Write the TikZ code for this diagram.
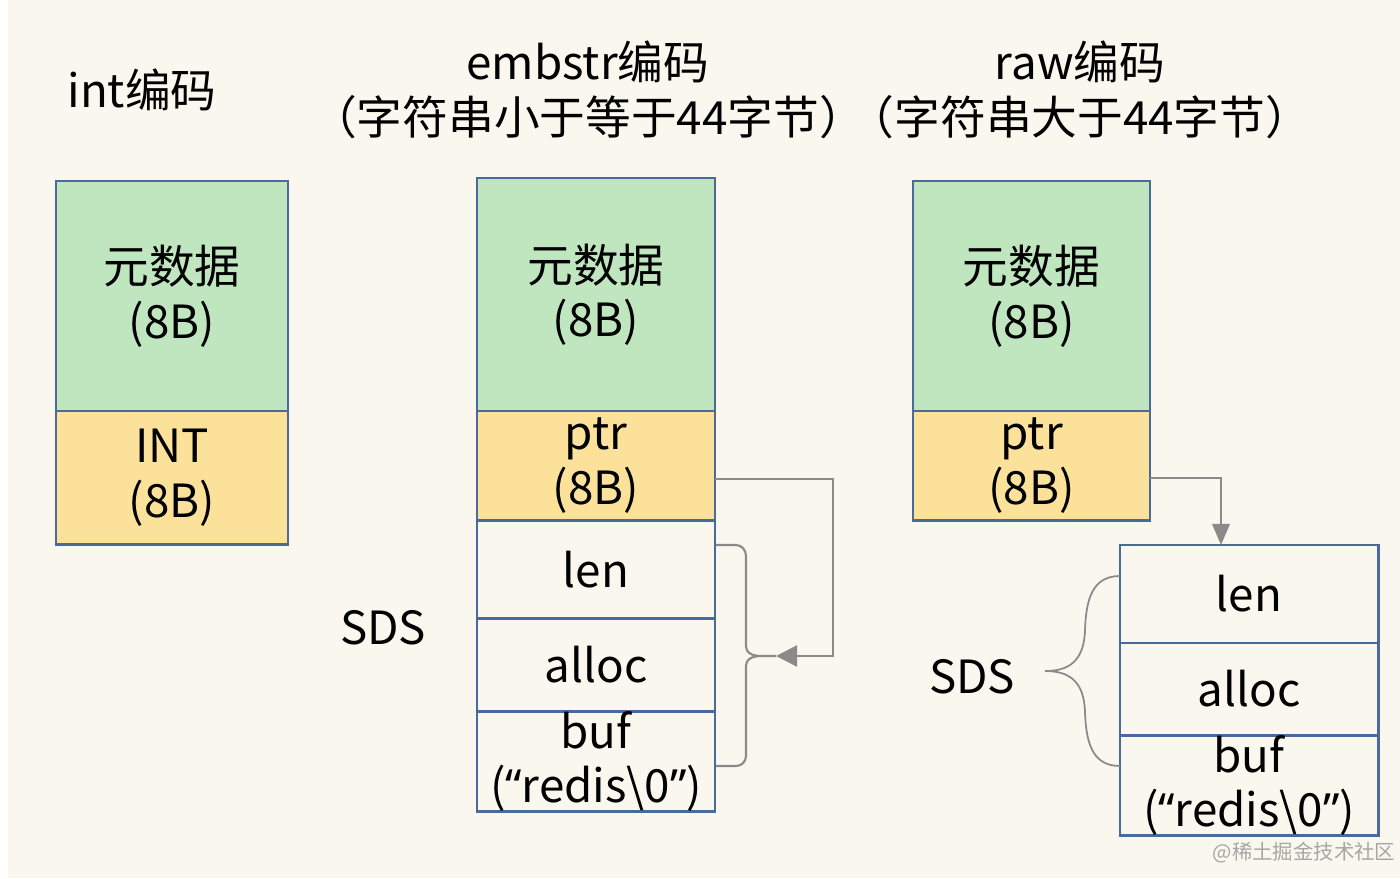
\documentclass[tikz,border=0pt]{standalone}
\usepackage{fontspec}
\setmainfont{Noto Sans CJK SC}
\newfontfamily\latinq{Noto Sans}
\usepackage{xcolor}
\usepackage{tikz}
\usetikzlibrary{positioning,arrows.meta}

\definecolor{bgcream}{HTML}{FAF8EE}
\definecolor{metagreen}{HTML}{BFE6BF}
\definecolor{valyellow}{HTML}{FBE19A}
\definecolor{boxblue}{HTML}{4A6A9E}
\definecolor{linegray}{HTML}{8A8A8A}

\newcommand{\redisbuf}{({\latinq “}redis\textbackslash0{\latinq ”})}

\tikzset{
  cell/.style={draw=boxblue, line width=0.8pt, inner sep=0pt, outer sep=0pt,
    align=center, font=\fontsize{13}{15.5}\selectfont},
  meta/.style={cell, fill=metagreen},
  val/.style={cell, fill=valyellow},
  title/.style={align=center, font=\fontsize{13}{15.6}\selectfont},
  conn/.style={draw=linegray, line width=0.6pt},
}

\begin{document}
\begin{tikzpicture}[x=0.01cm, y=-0.01cm]
\fill[white] (0,0) rectangle (1400,878);
\fill[bgcream] (8,0) rectangle (1400,878);
\useasboundingbox (0,0) rectangle (1400,878);

% titles
\node[title](tInt) at (142,90) {int编码};
\node[title](tEmb) at (588,90) {embstr编码\\（字符串小于等于44字节）};
\node[title](tRaw) at (1080,90) {raw编码\\（字符串大于44字节）};

% int
\node[meta, minimum width=2.32cm, minimum height=2.3cm](metaI) at (172,296) {元数据\\(8B)};
\node[val, minimum width=2.32cm, minimum height=1.33cm, below=0pt of metaI](valI) {INT\\(8B)};

% embstr
\node[meta, minimum width=2.38cm, minimum height=2.33cm](metaE) at (596,294.5) {元数据\\(8B)};
\node[val, minimum width=2.38cm, minimum height=1.09cm, below=0pt of metaE](ptrE) {ptr\\(8B)};
\node[cell, minimum width=2.38cm, minimum height=0.98cm, below=0pt of ptrE](lenE) {len};
\node[cell, minimum width=2.38cm, minimum height=0.93cm, below=0pt of lenE](allocE) {alloc};
\node[cell, minimum width=2.38cm, minimum height=1.0cm, below=0pt of allocE](bufE) {buf\\\redisbuf};
\node[title](sdsE) at (383,628) {SDS};

% raw
\node[meta, minimum width=2.37cm, minimum height=2.3cm](metaR) at (1031.5,296) {元数据\\(8B)};
\node[val, minimum width=2.37cm, minimum height=1.09cm, below=0pt of metaR](ptrR) {ptr\\(8B)};
\node[cell, minimum width=2.58cm, minimum height=0.98cm](lenR) at (1249,594) {len};
\node[cell, minimum width=2.58cm, minimum height=0.92cm, below=0pt of lenR](allocR) {alloc};
\node[cell, minimum width=2.58cm, minimum height=1.0cm, below=0pt of allocR](bufR) {buf\\\redisbuf};
\node[title](sdsR) at (972,677) {SDS};

% braces
\coordinate (tipE) at (776,656);
\coordinate (tipR) at (1045,671);
\draw[conn] (716,545) -- (736,545) to[out=0,in=90] (746,556) -- (746,646)
  to[out=-90,in=180] (tipE) to[out=180,in=90] (746,666) -- (746,756)
  to[out=-90,in=0] (736,766) -- (716,766);
\draw[conn, line width=0.5pt] (lenR.west |- 0,576) .. controls (1092,576) and (1086,600) .. (1085,630)
  .. controls (1084,662) and (1068,671) .. (tipR)
  .. controls (1068,671) and (1084,680) .. (1085,712)
  .. controls (1086,742) and (1092,766) .. (bufR.west |- 0,766);

% pointers
\draw[conn, -{Triangle[width=6pt,length=6pt]}] ([yshift=-3.7pt]ptrE.east) -- ++(118,0) |- (tipE);
\draw[conn, -{Triangle[width=5pt,length=6pt]}] ([yshift=-3.5pt]ptrR.east) -| ([xshift=-0.28cm]lenR.north);

\node[text=gray!70, font=\fontsize{5.8}{6}\selectfont](wm) at (1304,853) {@稀土掘金技术社区};
\end{tikzpicture}
\end{document}
